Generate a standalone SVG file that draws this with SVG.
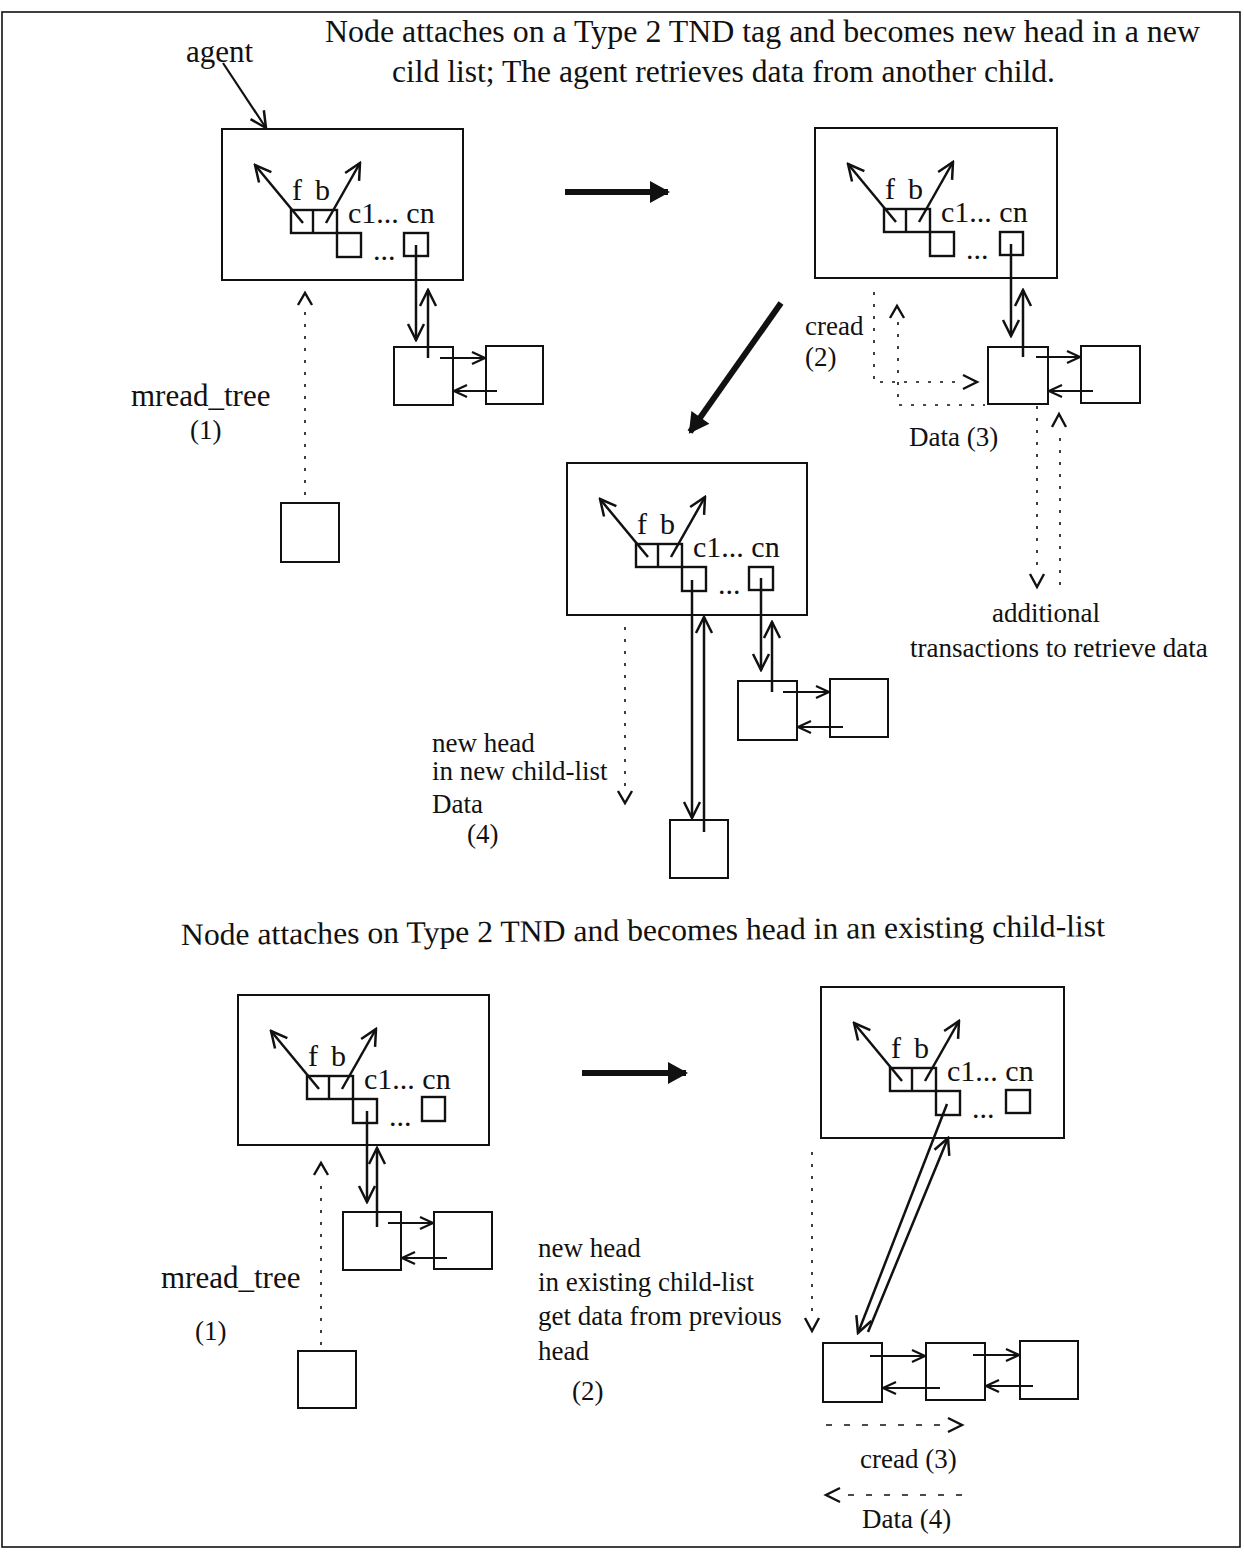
<svg xmlns="http://www.w3.org/2000/svg" width="1244" height="1560" viewBox="0 0 1244 1560">
<style>
text{font-family:"Liberation Serif","Times New Roman",serif;fill:#111}
.t{font-size:31px}
.lbl{font-size:27px}
.big{font-size:31px}
.in{font-size:30px}
.box{fill:none;stroke:#111;stroke-width:2}
.cell{fill:none;stroke:#111;stroke-width:2.4}
.ln{fill:none;stroke:#111;stroke-width:2.5}
.sm{fill:none;stroke:#111;stroke-width:2.2}
.dot{fill:none;stroke:#111;stroke-width:1.6;stroke-dasharray:3 9}
.dash{fill:none;stroke:#111;stroke-width:1.6;stroke-dasharray:6 12}
.chev{fill:none;stroke:#111;stroke-width:2.4}
.thick{fill:none;stroke:#111;stroke-width:6}
</style>
<defs>
<marker id="open" viewBox="0 0 20 20" refX="18" refY="10" markerWidth="20" markerHeight="20" markerUnits="userSpaceOnUse" orient="auto"><path d="M2,2 L18,10 L2,18" fill="none" stroke="#111" stroke-width="2.5"/></marker>
<marker id="opensm" viewBox="0 0 16 16" refX="15" refY="8" markerWidth="16" markerHeight="16" markerUnits="userSpaceOnUse" orient="auto"><path d="M2,2 L15,8 L2,14" fill="none" stroke="#111" stroke-width="2.3"/></marker>
<marker id="solid" viewBox="0 0 24 24" refX="20" refY="12" markerWidth="24" markerHeight="24" markerUnits="userSpaceOnUse" orient="auto"><path d="M2,1 L22,12 L2,23 Z" fill="#111"/></marker>
<g id="inner">
<rect class="cell" x="69" y="81" width="46" height="23"/>
<line class="cell" x1="91" y1="81" x2="91" y2="104"/>
<rect class="cell" x="115" y="104" width="24" height="24"/>
<text class="in" x="70" y="71">f</text>
<text class="in" x="93" y="71">b</text>
<text class="in" x="126" y="94">c1... cn</text>
<text class="in" x="151" y="131">...</text>
<line class="ln" x1="81" y1="94" x2="33" y2="36" marker-end="url(#open)"/>
<line class="ln" x1="104" y1="94" x2="138" y2="34" marker-end="url(#open)"/>
</g>
</defs>

<rect x="2" y="12" width="1238" height="1535" fill="none" stroke="#111" stroke-width="1.6"/>

<g id="titles">
<text class="t" x="325" y="42" textLength="875" lengthAdjust="spacingAndGlyphs">Node attaches on a Type 2 TND tag and becomes new head in a new</text>
<text class="t" x="392" y="82" textLength="663" lengthAdjust="spacingAndGlyphs">cild list; The agent retrieves data from another child.</text>
<text class="t" x="181" y="945" textLength="924" lengthAdjust="spacingAndGlyphs" transform="rotate(-0.55 181 945)">Node attaches on Type 2 TND and becomes head in an existing child-list</text>
</g>

<g id="agent">
<text class="big" x="186" y="62">agent</text>
</g>

<g id="box1" transform="translate(222,129)">
<rect class="box" x="0" y="0" width="241" height="151"/>
<use href="#inner"/>
<rect class="cell" x="182" y="104" width="24" height="23"/>
</g>
<g id="box1-child1"><rect class="box" x="394" y="347" width="59" height="58"/></g>
<g id="box1-child2"><rect class="box" x="486" y="346" width="57" height="58"/></g>
<g id="box1-new"><rect class="box" x="281" y="503" width="58" height="59"/></g>

<g id="box2" transform="translate(815,128)">
<rect class="box" x="0" y="0" width="242" height="150"/>
<use href="#inner"/>
<rect class="cell" x="185" y="104" width="23" height="23"/>
</g>
<g id="box2-child1"><rect class="box" x="988" y="347" width="60" height="57"/></g>
<g id="box2-child2"><rect class="box" x="1081" y="346" width="59" height="57"/></g>

<g id="box3" transform="translate(567,463)">
<rect class="box" x="0" y="0" width="240" height="152"/>
<use href="#inner"/>
<rect class="cell" x="182" y="104" width="24" height="23"/>
</g>
<g id="box3-child1"><rect class="box" x="738" y="681" width="59" height="59"/></g>
<g id="box3-child2"><rect class="box" x="830" y="679" width="58" height="58"/></g>
<g id="box3-new"><rect class="box" x="670" y="820" width="58" height="58"/></g>

<g id="box4" transform="translate(238,995)">
<rect class="box" x="0" y="0" width="251" height="150"/>
<use href="#inner"/>
<rect class="cell" x="184" y="102" width="23" height="24"/>
</g>
<g id="box4-child1"><rect class="box" x="343" y="1212" width="58" height="58"/></g>
<g id="box4-child2"><rect class="box" x="434" y="1212" width="58" height="57"/></g>
<g id="box4-new"><rect class="box" x="298" y="1351" width="58" height="57"/></g>

<g id="box5" transform="translate(821,987)">
<rect class="box" x="0" y="0" width="243" height="151"/>
<use href="#inner"/>
<rect class="cell" x="185" y="103" width="24" height="23"/>
</g>
<g id="box5-child1"><rect class="box" x="823" y="1343" width="59" height="59"/></g>
<g id="box5-child2"><rect class="box" x="926" y="1343" width="59" height="57"/></g>
<g id="box5-child3"><rect class="box" x="1020" y="1341" width="58" height="58"/></g>

<g id="labels">
<text class="lbl" x="805" y="335">cread</text>
<text class="lbl" x="805" y="366">(2)</text>
<text class="lbl" x="909" y="446">Data (3)</text>
<text class="big" x="131" y="406">mread_tree</text>
<text class="lbl" x="190" y="439">(1)</text>
<text class="lbl" x="992" y="622">additional</text>
<text class="lbl" x="910" y="657">transactions to retrieve data</text>
<text class="lbl" x="432" y="752">new head</text>
<text class="lbl" x="432" y="780">in new child-list</text>
<text class="lbl" x="432" y="813">Data</text>
<text class="lbl" x="467" y="843">(4)</text>
<text class="big" x="161" y="1288">mread_tree</text>
<text class="lbl" x="195" y="1340">(1)</text>
<text class="lbl" x="538" y="1257">new head</text>
<text class="lbl" x="538" y="1291">in existing child-list</text>
<text class="lbl" x="538" y="1325">get data from previous</text>
<text class="lbl" x="538" y="1360">head</text>
<text class="lbl" x="572" y="1400">(2)</text>
<text class="lbl" x="860" y="1468">cread (3)</text>
<text class="lbl" x="862" y="1528">Data (4)</text>
</g>

<g id="connectors">
<line class="sm" x1="223" y1="63" x2="266" y2="128" marker-end="url(#open)"/>
<line class="thick" x1="565" y1="192" x2="668" y2="192" marker-end="url(#solid)"/>
<line class="thick" x1="781" y1="303" x2="690" y2="432" marker-end="url(#solid)"/>
<line class="thick" x1="582" y1="1073" x2="686" y2="1073" marker-end="url(#solid)"/>

<line class="ln" x1="416" y1="245" x2="416" y2="340" marker-end="url(#open)"/>
<line class="ln" x1="428" y1="358" x2="428" y2="290" marker-end="url(#open)"/>
<line class="sm" x1="440" y1="358" x2="485" y2="358" marker-end="url(#opensm)"/>
<line class="sm" x1="497" y1="391" x2="454" y2="391" marker-end="url(#opensm)"/>
<line class="dot" x1="305" y1="495" x2="305" y2="312"/>
<path class="chev" d="M298,305 L305,293 L312,305"/>

<line class="ln" x1="1011" y1="244" x2="1011" y2="336" marker-end="url(#open)"/>
<line class="ln" x1="1023" y1="357" x2="1023" y2="290" marker-end="url(#open)"/>
<line class="sm" x1="1036" y1="357" x2="1080" y2="357" marker-end="url(#opensm)"/>
<line class="sm" x1="1093" y1="391" x2="1049" y2="391" marker-end="url(#opensm)"/>
<path class="dot" d="M874,292 L874,382 L958,382"/>
<path class="chev" d="M963,375 L977,382 L963,389"/>
<path class="dot" d="M898,322 L898,405 L985,405"/>
<path class="chev" d="M890,318 L897,306 L904,318"/>
<line class="dot" x1="1037" y1="406" x2="1037" y2="570"/>
<path class="chev" d="M1030,574 L1037,587 L1044,574"/>
<line class="dot" x1="1060" y1="438" x2="1060" y2="586"/>
<path class="chev" d="M1052,427 L1059,414 L1066,427"/>

<line class="ln" x1="692" y1="580" x2="692" y2="818" marker-end="url(#open)"/>
<line class="ln" x1="704" y1="832" x2="704" y2="617" marker-end="url(#open)"/>
<line class="ln" x1="761" y1="578" x2="761" y2="670" marker-end="url(#open)"/>
<line class="ln" x1="772" y1="692" x2="772" y2="622" marker-end="url(#open)"/>
<line class="sm" x1="783" y1="692" x2="829" y2="692" marker-end="url(#opensm)"/>
<line class="sm" x1="843" y1="727" x2="798" y2="727" marker-end="url(#opensm)"/>
<line class="dot" x1="625" y1="627" x2="625" y2="786"/>
<path class="chev" d="M618,791 L625,803 L632,791"/>

<line class="ln" x1="367" y1="1111" x2="367" y2="1202" marker-end="url(#open)"/>
<line class="ln" x1="377" y1="1227" x2="377" y2="1148" marker-end="url(#open)"/>
<line class="sm" x1="388" y1="1223" x2="433" y2="1223" marker-end="url(#opensm)"/>
<line class="sm" x1="447" y1="1258" x2="402" y2="1258" marker-end="url(#opensm)"/>
<line class="dot" x1="321" y1="1345" x2="321" y2="1182"/>
<path class="chev" d="M314,1175 L321,1163 L328,1175"/>

<line class="ln" x1="947" y1="1104" x2="858" y2="1333" marker-end="url(#open)"/>
<line class="ln" x1="868" y1="1332" x2="948" y2="1138" marker-end="url(#open)"/>
<line class="sm" x1="870" y1="1356" x2="925" y2="1356" marker-end="url(#opensm)"/>
<line class="sm" x1="973" y1="1355" x2="1019" y2="1355" marker-end="url(#opensm)"/>
<line class="sm" x1="940" y1="1388" x2="883" y2="1388" marker-end="url(#opensm)"/>
<line class="sm" x1="1033" y1="1386" x2="986" y2="1386" marker-end="url(#opensm)"/>
<line class="dot" x1="812" y1="1152" x2="812" y2="1312"/>
<path class="chev" d="M805,1318 L812,1331 L819,1318"/>
<line class="dash" x1="826" y1="1425" x2="945" y2="1425"/>
<path class="chev" d="M948,1418 L962,1425 L948,1432"/>
<line class="dash" x1="848" y1="1495" x2="963" y2="1495"/>
<path class="chev" d="M840,1488 L826,1495 L840,1502"/>
</g>
</svg>
